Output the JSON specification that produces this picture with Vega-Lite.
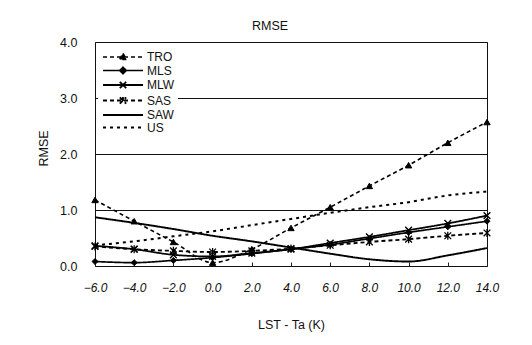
{
  "$schema": "https://vega.github.io/schema/vega-lite/v6.json",
  "autosize": {"type": "none"},
  "width": 392,
  "height": 224,
  "padding": {"left": 95, "top": 42, "right": 45, "bottom": 79},
  "background": "white",
  "title": {"text": "RMSE", "fontSize": 12.5, "fontWeight": "normal", "font": "Liberation Sans", "color": "#111", "offset": 4, "dx": -21},
  "data": {
    "values": [
      {"x": -6, "series": "TRO", "rmse": 1.18}, {"x": -4, "series": "TRO", "rmse": 0.8}, {"x": -2, "series": "TRO", "rmse": 0.43}, {"x": 0, "series": "TRO", "rmse": 0.06}, {"x": 2, "series": "TRO", "rmse": 0.3}, {"x": 4, "series": "TRO", "rmse": 0.68}, {"x": 6, "series": "TRO", "rmse": 1.05}, {"x": 8, "series": "TRO", "rmse": 1.43}, {"x": 10, "series": "TRO", "rmse": 1.8}, {"x": 12, "series": "TRO", "rmse": 2.2}, {"x": 14, "series": "TRO", "rmse": 2.57},
      {"x": -6, "series": "MLS", "rmse": 0.08}, {"x": -4, "series": "MLS", "rmse": 0.06}, {"x": -2, "series": "MLS", "rmse": 0.1}, {"x": 0, "series": "MLS", "rmse": 0.15}, {"x": 2, "series": "MLS", "rmse": 0.22}, {"x": 4, "series": "MLS", "rmse": 0.3}, {"x": 6, "series": "MLS", "rmse": 0.38}, {"x": 8, "series": "MLS", "rmse": 0.49}, {"x": 10, "series": "MLS", "rmse": 0.6}, {"x": 12, "series": "MLS", "rmse": 0.7}, {"x": 14, "series": "MLS", "rmse": 0.8},
      {"x": -6, "series": "MLW", "rmse": 0.36}, {"x": -4, "series": "MLW", "rmse": 0.3}, {"x": -2, "series": "MLW", "rmse": 0.2}, {"x": 0, "series": "MLW", "rmse": 0.17}, {"x": 2, "series": "MLW", "rmse": 0.23}, {"x": 4, "series": "MLW", "rmse": 0.3}, {"x": 6, "series": "MLW", "rmse": 0.41}, {"x": 8, "series": "MLW", "rmse": 0.52}, {"x": 10, "series": "MLW", "rmse": 0.64}, {"x": 12, "series": "MLW", "rmse": 0.76}, {"x": 14, "series": "MLW", "rmse": 0.9},
      {"x": -6, "series": "SAS", "rmse": 0.35}, {"x": -4, "series": "SAS", "rmse": 0.3}, {"x": -2, "series": "SAS", "rmse": 0.27}, {"x": 0, "series": "SAS", "rmse": 0.25}, {"x": 2, "series": "SAS", "rmse": 0.27}, {"x": 4, "series": "SAS", "rmse": 0.31}, {"x": 6, "series": "SAS", "rmse": 0.37}, {"x": 8, "series": "SAS", "rmse": 0.43}, {"x": 10, "series": "SAS", "rmse": 0.48}, {"x": 12, "series": "SAS", "rmse": 0.54}, {"x": 14, "series": "SAS", "rmse": 0.59},
      {"x": -6, "series": "SAW", "rmse": 0.87}, {"x": -4, "series": "SAW", "rmse": 0.77}, {"x": -2, "series": "SAW", "rmse": 0.66}, {"x": 0, "series": "SAW", "rmse": 0.54}, {"x": 2, "series": "SAW", "rmse": 0.44}, {"x": 4, "series": "SAW", "rmse": 0.33}, {"x": 6, "series": "SAW", "rmse": 0.22}, {"x": 8, "series": "SAW", "rmse": 0.12}, {"x": 10, "series": "SAW", "rmse": 0.08}, {"x": 12, "series": "SAW", "rmse": 0.19}, {"x": 14, "series": "SAW", "rmse": 0.32},
      {"x": -6, "series": "US", "rmse": 0.37}, {"x": -4, "series": "US", "rmse": 0.44}, {"x": -2, "series": "US", "rmse": 0.53}, {"x": 0, "series": "US", "rmse": 0.62}, {"x": 2, "series": "US", "rmse": 0.73}, {"x": 4, "series": "US", "rmse": 0.84}, {"x": 6, "series": "US", "rmse": 0.95}, {"x": 8, "series": "US", "rmse": 1.05}, {"x": 10, "series": "US", "rmse": 1.14}, {"x": 12, "series": "US", "rmse": 1.26}, {"x": 14, "series": "US", "rmse": 1.33}
    ]
  },
  "encoding": {
    "x": {
      "field": "x", "type": "quantitative",
      "scale": {"domain": [-6, 14], "nice": false, "zero": false},
      "axis": {
        "title": "LST - Ta (K)", "values": [-6, -4, -2, 0, 2, 4, 6, 8, 10, 12, 14], "format": ".1f",
        "grid": false, "domain": false, "ticks": true, "tickSize": -4, "tickColor": "#222",
        "labelFlush": false, "labelFontStyle": "italic", "labelFontSize": 12, "labelPadding": 20, "labelDx": -5,
        "titlePadding": 25, "titleFontSize": 12.5
      }
    },
    "y": {
      "field": "rmse", "type": "quantitative",
      "scale": {"domain": [0, 4], "nice": false},
      "axis": {
        "title": "RMSE", "values": [0, 1, 2, 3, 4], "format": ".1f",
        "grid": true, "gridColor": "#111", "gridWidth": 1, "domain": false, "ticks": false,
        "labelFlush": false, "labelFontSize": 12.5, "labelPadding": 18, "titlePadding": 9, "titleFontSize": 12.5, "titleY": 106
      }
    }
  },
  "layer": [
    {
      "mark": {"type": "line", "interpolate": "monotone", "color": "black"},
      "encoding": {
        "detail": {"field": "series"},
        "strokeDash": {
          "field": "series", "type": "nominal",
          "scale": {"domain": ["TRO", "MLS", "MLW", "SAS", "SAW", "US"], "range": [[4, 3], [1, 0], [1, 0], [4, 3], [1, 0], [3, 4]]},
          "legend": {
            "title": null, "orient": "none", "legendX": 3, "legendY": 6,
            "fillColor": "white", "padding": 3, "symbolSize": 64, "labelOffset": 34,
            "labelFontSize": 12, "symbolStrokeWidth": 1.5, "symbolStrokeColor": "black", "rowPadding": 0.5,
            "encode": {
              "symbols": {
                "update": {
                  "fill": {"value": "black"},
                  "stroke": {"value": "black"},
                  "strokeWidth": {"value": 1.5},
                  "opacity": {"value": 1},
                  "strokeOpacity": {"value": 1},
                  "shape": {"signal": "datum.value === 'TRO' ? 'M-1,0H9M4,-0.9L4.85,0.6L3.15,0.6Z' : datum.value === 'MLS' ? 'M-1,0H9M4,-0.8L4.8,0L4,0.8L3.2,0Z' : datum.value === 'MLW' ? 'M-1,0H9M3.2,-0.8L4.8,0.8M3.2,0.8L4.8,-0.8' : datum.value === 'SAS' ? 'M-1,0H9M3.2,-0.8L4.8,0.8M3.2,0.8L4.8,-0.8M4,-0.9V0.9' : 'M-1,0H9'"}
                }
              }
            }
          }
        },
        "strokeWidth": {
          "field": "series", "type": "nominal",
          "scale": {"domain": ["TRO", "MLS", "MLW", "SAS", "SAW", "US"], "range": [1.6, 2, 2, 1.6, 1.6, 1.6]},
          "legend": null
        }
      }
    },
    {
      "transform": [{"filter": {"field": "series", "equal": "TRO"}}],
      "mark": {"type": "point", "shape": "triangle-up", "fill": "black", "stroke": "black", "strokeWidth": 1, "opacity": 1, "size": 40}
    },
    {
      "transform": [{"filter": {"field": "series", "equal": "MLS"}}],
      "mark": {"type": "point", "shape": "diamond", "fill": "black", "stroke": "black", "strokeWidth": 1, "opacity": 1, "size": 35}
    },
    {
      "transform": [{"filter": {"field": "series", "equal": "MLW"}}],
      "mark": {"type": "point", "shape": "M-1,-1L1,1M-1,1L1,-1", "fill": "black", "stroke": "black", "strokeWidth": 1.4, "opacity": 1, "size": 45}
    },
    {
      "transform": [{"filter": {"field": "series", "equal": "SAS"}}],
      "mark": {"type": "point", "shape": "M-1,-1L1,1M-1,1L1,-1M0,-1.2V1.2", "fill": "black", "stroke": "black", "strokeWidth": 1.3, "opacity": 1, "size": 45}
    }
  ],
  "config": {
    "font": "Liberation Sans",
    "view": {"stroke": "#111", "strokeWidth": 1},
    "axis": {"labelColor": "#111", "titleColor": "#111", "labelFont": "Liberation Sans", "titleFont": "Liberation Sans", "titleFontWeight": "normal"},
    "legend": {"labelColor": "#111", "labelFont": "Liberation Sans"}
  }
}
